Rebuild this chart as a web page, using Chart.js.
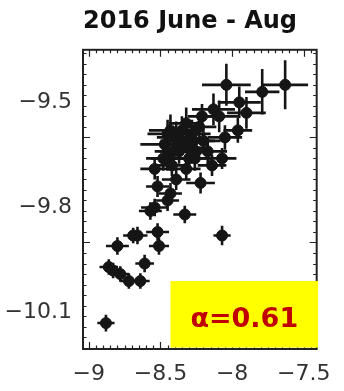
<!DOCTYPE html>
<html>
<head>
<meta charset="utf-8">
<script src="https://cdn.jsdelivr.net/npm/chart.js@4.4.1/dist/chart.umd.min.js"></script>
<style>
  html, body { margin: 0; padding: 0; background: #fff; }
  #wrap { width: 344px; height: 391px; position: relative; }
</style>
</head>
<body>
<div id="wrap"><canvas id="scatter"></canvas></div>
<script>
/* ---- data: log values with 1-sigma errors ---- */
const xVals = [-8.04, -7.63, -7.79, -7.95, -7.90, -8.13, -8.09, -7.96, -8.05, -8.07,
               -8.43, -8.47, -8.27, -8.23, -8.17, -8.37, -8.30, -8.39, -8.21, -8.32,
               -8.14, -8.54, -8.45, -8.32, -8.22, -8.39, -8.43, -8.54, -8.57, -8.45,
               -8.33, -8.25, -8.42, -8.52, -8.52, -8.66, -8.80, -8.51, -8.07, -8.61,
               -8.86, -8.78, -8.72, -8.64, -8.88, -8.69, -8.83,
               -8.36, -8.41, -8.28, -8.20, -8.31, -8.45, -8.35, -8.26, -8.48];
const yVals = [-9.45, -9.45, -9.47, -9.50, -9.53, -9.52, -9.54, -9.58, -9.60, -9.66,
               -9.58, -9.62, -9.61, -9.57, -9.64, -9.64, -9.66, -9.60, -9.54, -9.56,
               -9.68, -9.69, -9.66, -9.69, -9.73, -9.72, -9.76, -9.80, -9.81, -9.78,
               -9.82, -9.64, -9.68, -9.74, -9.87, -9.88, -9.91, -9.91, -9.88, -9.96,
               -9.97, -9.99, -10.01, -10.01, -10.13, -9.88, -9.98,
               -9.61, -9.64, -9.59, -9.61, -9.63, -9.59, -9.58, -9.66, -9.66];
const xErr  = [0.17, 0.16, 0.12, 0.15, 0.135, 0.15, 0.135, 0.10, 0.12, 0.10,
               0.15, 0.17, 0.15, 0.12, 0.135, 0.135, 0.12, 0.135, 0.10, 0.12,
               0.10, 0.10, 0.12, 0.10, 0.10, 0.10, 0.08, 0.095, 0.08, 0.08,
               0.08, 0.10, 0.10, 0.08, 0.08, 0.07, 0.08, 0.07, 0.06, 0.065,
               0.065, 0.06, 0.06, 0.065, 0.06, 0.07, 0.055,
               0.14, 0.13, 0.13, 0.12, 0.12, 0.14, 0.13, 0.11, 0.12];
const yErr  = [0.06, 0.07, 0.065, 0.045, 0.045, 0.045, 0.045, 0.035, 0.035, 0.03,
               0.045, 0.035, 0.045, 0.04, 0.035, 0.035, 0.035, 0.045, 0.035, 0.045,
               0.03, 0.03, 0.035, 0.03, 0.03, 0.03, 0.03, 0.025, 0.025, 0.03,
               0.025, 0.035, 0.03, 0.03, 0.025, 0.025, 0.025, 0.025, 0.028, 0.025,
               0.022, 0.022, 0.022, 0.022, 0.024, 0.022, 0.022,
               0.04, 0.04, 0.04, 0.035, 0.035, 0.04, 0.04, 0.035, 0.035];

const xTicks = [-9, -8.5, -8, -7.5];
const yTicks = [-9.5, -9.8, -10.1];
const titleText = '2016 June - Aug';
const alphaText = 'α=0.61';

const points = xVals.map((x, i) => ({ x, y: yVals[i], ex: xErr[i], ey: yErr[i] }));
const fmt = v => String(v).replace('-', '\u2212');

/* ---- cross-shaped error bars, drawn under the markers ---- */
const errorBars = {
  id: 'errorBars',
  beforeDatasetsDraw(chart) {
    const { ctx, chartArea: a, scales: { x, y } } = chart;
    ctx.save();
    ctx.beginPath();
    ctx.rect(a.left, a.top, a.right - a.left, a.bottom - a.top);
    ctx.clip();
    ctx.strokeStyle = '#151515';
    ctx.lineWidth = 2.6;
    points.forEach(p => {
      const px = x.getPixelForValue(p.x), py = y.getPixelForValue(p.y);
      ctx.beginPath();
      ctx.moveTo(x.getPixelForValue(p.x - p.ex), py);
      ctx.lineTo(x.getPixelForValue(p.x + p.ex), py);
      ctx.moveTo(px, y.getPixelForValue(p.y - p.ey));
      ctx.lineTo(px, y.getPixelForValue(p.y + p.ey));
      ctx.stroke();
    });
    ctx.restore();
  }
};

/* ---- closed box with inward major/minor ticks on all four sides ---- */
const frameTicks = {
  id: 'frameTicks',
  afterDraw(chart) {
    const { ctx, chartArea: a, scales: { x, y } } = chart;
    ctx.save();
    ctx.strokeStyle = '#222';
    ctx.lineWidth = 1.2;
    ctx.beginPath();
    for (let k = -181; k <= -148; k++) {          // x minor step 0.05
      const v = k * 0.05;
      if (v < x.min || v > x.max) continue;
      const len = k % 10 === 0 ? 7 : 3.5;
      const px = Math.round(x.getPixelForValue(v)) + 0.5;
      ctx.moveTo(px, a.bottom); ctx.lineTo(px, a.bottom - len);
      ctx.moveTo(px, a.top);    ctx.lineTo(px, a.top + len);
    }
    for (let k = -340; k <= -311; k++) {          // y minor step 0.03
      const v = k * 0.03;
      if (v < y.min || v > y.max) continue;
      const len = k % 10 === 0 ? 7 : 3.5;
      const py = Math.round(y.getPixelForValue(v)) + 0.5;
      ctx.moveTo(a.left, py);  ctx.lineTo(a.left + len, py);
      ctx.moveTo(a.right, py); ctx.lineTo(a.right - len, py);
    }
    ctx.stroke();
    ctx.lineWidth = 2;
    ctx.strokeRect(a.left, a.top, a.right - a.left, a.bottom - a.top);
    ctx.restore();
  }
};

/* ---- yellow label box in the lower right ---- */
const alphaBox = {
  id: 'alphaBox',
  afterDraw(chart, args, opts) {
    const { ctx, scales: { x, y } } = chart;
    const l = x.getPixelForValue(opts.xFrom), r = x.getPixelForValue(opts.xTo);
    const t = y.getPixelForValue(opts.yTo), b = y.getPixelForValue(opts.yFrom);
    ctx.save();
    ctx.fillStyle = '#ffff00';
    ctx.fillRect(l, t, r - l, b - t);
    ctx.fillStyle = '#c00000';
    ctx.font = 'bold 27px "DejaVu Sans"';
    ctx.textAlign = 'center';
    ctx.textBaseline = 'alphabetic';
    ctx.fillText(alphaText, (l + r) / 2, (t + b) / 2 + 13);
    ctx.restore();
  }
};

const tickFont = { family: '"DejaVu Sans"', size: 22 };

new Chart(document.getElementById('scatter'), {
  type: 'scatter',
  data: {
    datasets: [{
      data: points,
      backgroundColor: '#151515',
      borderColor: '#151515',
      pointRadius: 5.5,
      pointHoverRadius: 5.5
    }]
  },
  options: {
    responsive: true,
    maintainAspectRatio: false,
    animation: false,
    layout: { padding: { left: 0, right: 19, top: 0, bottom: 0 } },
    plugins: {
      legend: { display: false },
      tooltip: { enabled: false },
      title: {
        display: true,
        text: titleText,
        fullSize: false,
        align: 'start',
        color: '#111',
        font: { family: '"DejaVu Sans"', size: 24, weight: 'bold' },
        padding: { top: 7, bottom: 14 }
      },
      alphaBox: { xFrom: -8.43, xTo: -7.40, yFrom: -10.20, yTo: -10.01 }
    },
    scales: {
      x: {
        type: 'linear',
        min: -9.04, max: -7.41,
        afterBuildTicks: s => { s.ticks = xTicks.map(v => ({ value: v })); },
        afterFit: s => { s.height = 42; },
        grid: { display: false, drawTicks: false },
        border: { display: false },
        ticks: { color: '#333', font: tickFont, padding: 12, maxRotation: 0, callback: fmt }
      },
      y: {
        type: 'linear',
        min: -10.204, max: -9.35,
        afterBuildTicks: s => { s.ticks = yTicks.map(v => ({ value: v })); },
        afterFit: s => { s.width = 83; },
        grid: { display: false, drawTicks: false },
        border: { display: false },
        ticks: { color: '#333', font: tickFont, padding: 11, callback: fmt }
      }
    }
  },
  plugins: [errorBars, frameTicks, alphaBox]
});
</script>
</body>
</html>
